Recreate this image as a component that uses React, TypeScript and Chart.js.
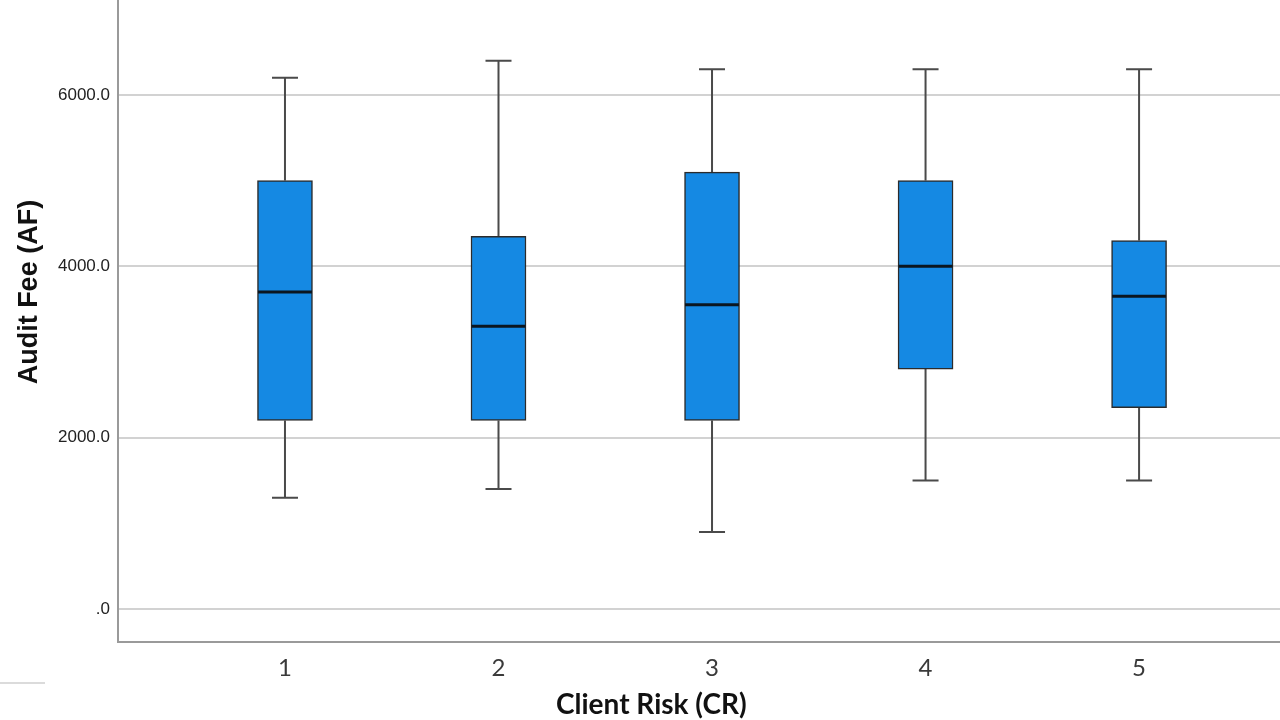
import React, { useEffect, useRef } from "react";
import { Chart, registerables } from "chart.js";

Chart.register(...registerables);

const categories = [1, 2, 3, 4, 5];
const whiskerLow = [1300, 1400, 900, 1500, 1500];
const q1 = [2200, 2200, 2200, 2800, 2350];
const median = [3700, 3300, 3550, 4000, 3650];
const q3 = [5000, 4350, 5100, 5000, 4300];
const whiskerHigh = [6200, 6400, 6300, 6300, 6300];
const yTicks = [0, 2000, 4000, 6000];
const xTitle = "Client Risk (CR)";
const yTitle = "Audit Fee (AF)";

const boxPlugin = {
  id: "boxParts",
  beforeDatasetsDraw(chart: any) {
    const { ctx, scales } = chart;
    const xs = scales.x;
    const ys = scales.y;
    ctx.save();
    ctx.strokeStyle = "#4a4a4a";
    ctx.lineWidth = 2;
    categories.forEach((c, i) => {
      const x = xs.getPixelForValue(c);
      const capHalf = 13;
      const yl = ys.getPixelForValue(whiskerLow[i]);
      const yh = ys.getPixelForValue(whiskerHigh[i]);
      const y1 = ys.getPixelForValue(q1[i]);
      const y3 = ys.getPixelForValue(q3[i]);
      ctx.beginPath();
      ctx.moveTo(x, y3);
      ctx.lineTo(x, yh);
      ctx.moveTo(x - capHalf, yh);
      ctx.lineTo(x + capHalf, yh);
      ctx.moveTo(x, y1);
      ctx.lineTo(x, yl);
      ctx.moveTo(x - capHalf, yl);
      ctx.lineTo(x + capHalf, yl);
      ctx.stroke();
    });
    ctx.restore();
  },
  afterDatasetsDraw(chart: any) {
    const { ctx, scales } = chart;
    const xs = scales.x;
    const ys = scales.y;
    ctx.save();
    ctx.strokeStyle = "#0b1620";
    ctx.lineWidth = 3;
    categories.forEach((c, i) => {
      const x = xs.getPixelForValue(c);
      const ym = ys.getPixelForValue(median[i]);
      ctx.beginPath();
      ctx.moveTo(x - 27, ym);
      ctx.lineTo(x + 27, ym);
      ctx.stroke();
    });
    ctx.restore();
  },
  afterDraw(chart: any) {
    const { ctx, chartArea } = chart;
    ctx.save();
    ctx.fillStyle = "#111";
    ctx.textAlign = "center";
    ctx.textBaseline = "middle";
    ctx.font = "bold 28px Lato";
    ctx.fillText(xTitle, chartArea.left + chartArea.width * 0.459, chart.height - 15);
    ctx.translate(30, chartArea.top + chartArea.height * 0.455);
    ctx.rotate(-Math.PI / 2);
    ctx.font = "bold 27px 'Liberation Sans'";
    ctx.fillText(yTitle, 0, 0);
    ctx.restore();
    ctx.save();
    ctx.strokeStyle = "#cfcfcf";
    ctx.lineWidth = 1.5;
    ctx.beginPath();
    ctx.moveTo(0, 683);
    ctx.lineTo(45, 683);
    ctx.stroke();
    ctx.restore();
  },
};

export default function App() {
  const ref = useRef<HTMLCanvasElement | null>(null);
  useEffect(() => {
    document.body.style.margin = "0";
    const canvas = ref.current!;
    const chart = new Chart(canvas, {
      type: "bar",
      data: {
        datasets: [
          {
            data: categories.map((c, i) => ({ x: c, y: [q1[i], q3[i]] })) as any,
            backgroundColor: "#1589e3",
            borderColor: "#2b2b2b",
            borderWidth: 1.5,
            borderSkipped: false,
            barThickness: 55,
          },
        ],
      },
      options: {
        responsive: false,
        animation: false,
        devicePixelRatio: 1,
        layout: { padding: 0 },
        plugins: { legend: { display: false }, tooltip: { enabled: false } },
        scales: {
          x: {
            type: "linear",
            offset: false,
            min: 0.218,
            max: 5.66,
            afterBuildTicks: (s: any) => {
              s.ticks = categories.map((v) => ({ value: v }));
            },
            afterFit: (s: any) => {
              s.height = 78;
              s.paddingLeft = 0;
              s.paddingRight = 0;
            },
            grid: { display: false, drawTicks: false },
            border: { color: "#9a9a9a", width: 2 },
            ticks: {
              padding: 12,
              color: "#3a3a3a",
              font: { family: "Lato", size: 24 },
              callback: (v: any) => String(v),
            },
            title: { display: false },
          },
          y: {
            type: "linear",
            min: -385,
            max: 7108,
            afterBuildTicks: (s: any) => {
              s.ticks = yTicks.map((v) => ({ value: v }));
            },
            afterFit: (s: any) => {
              s.width = 118;
              s.paddingTop = 0;
              s.paddingBottom = 0;
            },
            grid: { color: "#d2d2d2", lineWidth: 2, drawTicks: false },
            border: { color: "#9a9a9a", width: 2 },
            ticks: {
              padding: 8,
              color: "#222",
              font: { family: "Liberation Sans", size: 17 },
              callback: (v: any) => (v === 0 ? ".0" : Number(v).toFixed(1)),
            },
            title: { display: false },
          },
        },
      },
      plugins: [boxPlugin],
    });
    return () => chart.destroy();
  }, []);
  return (
    <div style={{ position: "absolute", left: 0, top: 0, width: 1280, height: 720 }}>
      <canvas ref={ref} width={1280} height={720} />
    </div>
  );
}
